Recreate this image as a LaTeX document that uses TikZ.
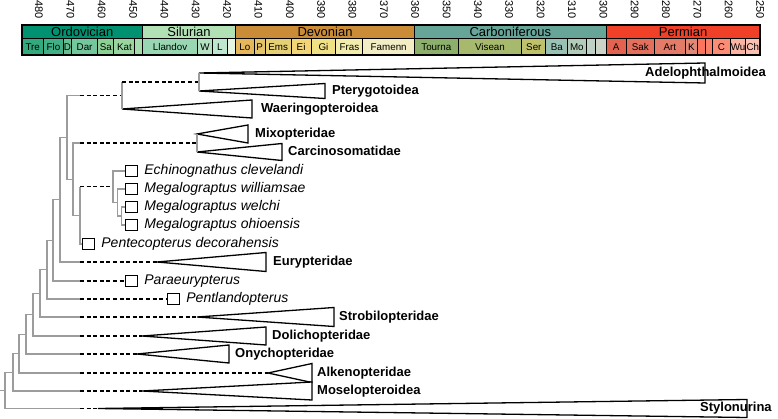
\documentclass[tikz,border=0pt]{standalone}
\usepackage{fontspec}
\setmainfont{Liberation Sans}
\usetikzlibrary{positioning}

% clade triangle: name, apex x, y, end x, half height
\newcommand{\drawclade}[5]{%
  \coordinate (#1) at (#2,#3);
  \coordinate (#1-end) at (#4,#3);
  \draw[clade] (#1) -- (#4,#3-#5) -- (#4,#3+#5) -- cycle;}

\begin{document}
\begin{tikzpicture}[x=1pt, y=-1pt,
    declare function={ax(\a)=39+(480-\a)*3.135;},
    box/.style={draw=black, line width=0.9pt},
    branch/.style={draw=treeGray, line width=1.1pt},
    ghost/.style={draw=black, line width=1.2pt, dash pattern=on 4pt off 2.6pt},
    clade/.style={draw=black, fill=white, line width=1.3pt},
    taxonbox/.style={draw=black, fill=white, line width=1.2pt, minimum width=12pt, minimum height=11pt, inner sep=0pt},
    cladename/.style={font=\fontsize{13}{15}\selectfont\bfseries, inner sep=0pt, text height=9.4pt, text depth=2.7pt},
    taxonname/.style={font=\fontsize{14}{16}\selectfont\itshape, inner sep=0pt, text height=10pt, text depth=3pt}]

    \definecolor{treeGray}{HTML}{9C9C9C}

    \useasboundingbox (0,0) rectangle (778,419);

    % Time axis labels
    \foreach \t in {480,470,...,250}
        \node[rotate=-90, anchor=west, inner sep=0pt, font=\fontsize{11}{13}\selectfont] (tick\t) at ({ax(\t)},0.3) {\t};

    % Periods
    \foreach \s/\e/\col/\lab [count=\i] in {485.4/447.0/009270/Ordovician, 447.0/417.3/B3E1B6/Silurian,
            417.3/360.2/CB8C37/Devonian, 360.2/299.1/67A599/Carboniferous, 299.1/250.0/F04028/Permian} {
        \definecolor{periodFill}{HTML}{\col}
        \draw[box, fill=periodFill] ({ax(\s)},25) rectangle ({ax(\e)},38);
        \node[inner sep=0pt, font=\fontsize{13}{15}\selectfont] (period\i) at ({(ax(\s)+ax(\e))/2},31.6) {\lab};
    }

    % Stages
    \foreach \s/\e/\col/\lab [count=\i] in {485.4/478.6/33A97E/Tre, 478.6/472.2/41B087/Flo, 472.2/469.6/66C092/D,
            469.6/461.3/74C69C/Dar, 461.3/456.1/8CD094/Sa, 456.1/449.4/99D69F/Kat, 449.4/447.0/A6DBAB/{},
            447.0/429.4/99D7B3/Llandov, 429.4/424.7/B3E1C2/W, 424.7/419.9/BFE6CF/L, 419.9/417.3/E6F5E1/{},
            417.3/411.4/E5B75A/Lo, 411.4/407.8/E5C468/P, 407.8/399.6/E5D075/Ems, 399.6/393.2/F1D576/Ei,
            393.2/385.3/F1E185/Gi, 385.3/376.7/F2EDAD/Fras, 376.7/360.2/F2EDC5/Famenn,
            360.2/346.3/8CB06C/Tourna, 346.3/326.0/A6B96C/Visean, 326.0/318.3/BFC26B/Ser, 318.3/311.4/99C2B5/Ba,
            311.4/305.5/B3CBB9/Mo, 305.5/302.5/BFD0C5/{}, 302.5/299.1/CCD4C7/{},
            299.1/292.7/E36350/A, 292.7/283.7/E36F5C/Sak, 283.7/273.9/E37B68/Art, 273.9/269.9/E38776/K,
            269.9/267.4/FB745C/{}, 267.4/265.2/FB8069/{}, 265.2/259.4/FB8D76/C, 259.4/254.6/FCB4A2/Wu,
            254.6/250.0/FCC0B2/Ch} {
        \definecolor{stageFill}{HTML}{\col}
        \draw[box, fill=stageFill] ({ax(\s)},38) rectangle ({ax(\e)},55);
        \node[inner sep=0pt, font=\fontsize{9.8}{11}\selectfont] (stage\i) at ({(ax(\s)+ax(\e))/2},46.8) {\lab};
    }
    \draw[line width=1.3pt] ({ax(485.4)},25) rectangle ({ax(250)},55);

    % Tree nodes
    \coordinate (ghost) at (80,0);
    \coordinate (root) at (0,390.7);
    \coordinate (s1) at (5,390.7);
    \coordinate (s2) at (13,372.3);
    \coordinate (s3) at (19,353.7);
    \coordinate (s4) at (26,334.3);
    \coordinate (s5) at (33,314.7);
    \coordinate (s6) at (40,293.3);
    \coordinate (s7) at (47,269.7);
    \coordinate (s8) at (53,240.3);
    \coordinate (s9) at (60,199.7);
    \coordinate (s10) at (67,137.4);
    \coordinate (s11) at (73,179.2);
    \coordinate (s12) at (80,215.4);
    \coordinate (ptw) at (122,95.5);
    \coordinate (pa) at (199,82);
    \coordinate (mc) at (197,143);
    \coordinate (meg) at (113,186.8);
    \coordinate (meg2) at (117.5,202.5);
    \coordinate (meg3) at (121.5,216);

    % Clades
    \drawclade{adelo}{199}{73}{705}{10}
    \drawclade{ptery}{199}{91}{325}{7.5}
    \drawclade{waer}{122}{109}{252}{9}
    \drawclade{mixo}{197}{134}{248}{9}
    \drawclade{carcino}{197}{152}{282}{8.5}
    \drawclade{eury}{157}{262}{266}{9.5}
    \drawclade{strob}{197}{317}{334}{9.5}
    \drawclade{dolich}{142}{336}{266}{9}
    \drawclade{onych}{137}{354}{229}{9}
    \drawclade{alken}{268}{373}{312}{9.5}
    \drawclade{mosel}{142}{391}{312}{9}
    \drawclade{stylon}{98}{408.5}{747}{9}

    % Single taxa
    \node[taxonbox, anchor=west] (echino) at (125,171) {};
    \node[taxonbox, anchor=west] (will) at (125,189) {};
    \node[taxonbox, anchor=west] (welchi) at (125,207) {};
    \node[taxonbox, anchor=west] (ohio) at (125,225) {};
    \node[taxonbox, anchor=west] (pentec) at (82,244) {};
    \node[taxonbox, anchor=west] (paraeu) at (125,281) {};
    \node[taxonbox, anchor=west] (pentl) at (167,299) {};

    % Branches
    \draw[branch] (root) -- (s1);
    \foreach \p/\c in {s1/s2, s2/s3, s3/s4, s4/s5, s5/s6, s6/s7, s7/s8, s8/s9, s9/s10, s10/s11, s11/s12}
        \draw[branch] (\p) |- (\c);
    \foreach \p/\t in {s1/stylon, s2/mosel, s3/alken, s4/onych, s5/dolich, s6/strob, s7/pentl,
            s8/paraeu, s9/eury, s10/ptw, s11/mc, s12/meg} {
        \draw[branch] (\p) |- (ghost |- \t);
        \draw[ghost] (ghost |- \t) -- (\t);
    }
    \draw[branch] (s12) |- (pentec);
    \draw[branch] (ptw) -- (ptw |- pa);
    \draw[ghost] (ptw |- pa) -- (pa);
    \draw[branch] (ptw) -- (waer);
    \draw[branch] (pa) -- (adelo);
    \draw[branch] (pa) -- (ptery);
    \draw[branch] (mc) -- (mixo);
    \draw[branch] (mc) -- (carcino);
    \draw[branch] (meg) |- (echino);
    \draw[branch] (meg) |- (meg2);
    \draw[branch] (meg2) |- (will);
    \draw[branch] (meg2) |- (meg3);
    \draw[branch] (meg3) |- (welchi);
    \draw[branch] (meg3) |- (ohio);

    % Labels
    \node[cladename, anchor=west] (adelo-lab) at (645,73) {Adelophthalmoidea};
    \node[cladename, right=7pt of ptery-end] (ptery-lab) {Pterygotoidea};
    \node[cladename, right=9pt of waer-end] (waer-lab) {Waeringopteroidea};
    \node[cladename, right=7pt of mixo-end] (mixo-lab) {Mixopteridae};
    \node[cladename, right=6pt of carcino-end] (carcino-lab) {Carcinosomatidae};
    \node[cladename, right=7pt of eury-end] (eury-lab) {Eurypteridae};
    \node[cladename, right=5pt of strob-end] (strob-lab) {Strobilopteridae};
    \node[cladename, right=6pt of dolich-end] (dolich-lab) {Dolichopteridae};
    \node[cladename, right=6pt of onych-end] (onych-lab) {Onychopteridae};
    \node[cladename, right=5pt of alken-end] (alken-lab) {Alkenopteridae};
    \node[cladename, right=5pt of mosel-end] (mosel-lab) {Moselopteroidea};
    \node[cladename, anchor=west] (stylon-lab) at (700,408) {Stylonurina};

    \node[taxonname, right=6pt of echino] (echino-lab) {Echinognathus clevelandi};
    \node[taxonname, right=6pt of will] (will-lab) {Megalograptus williamsae};
    \node[taxonname, right=6pt of welchi] (welchi-lab) {Megalograptus welchi};
    \node[taxonname, right=6pt of ohio] (ohio-lab) {Megalograptus ohioensis};
    \node[taxonname, right=6pt of pentec] (pentec-lab) {Pentecopterus decorahensis};
    \node[taxonname, right=6pt of paraeu] (paraeu-lab) {Paraeurypterus};
    \node[taxonname, right=6pt of pentl] (pentl-lab) {Pentlandopterus};

\end{tikzpicture}
\end{document}
